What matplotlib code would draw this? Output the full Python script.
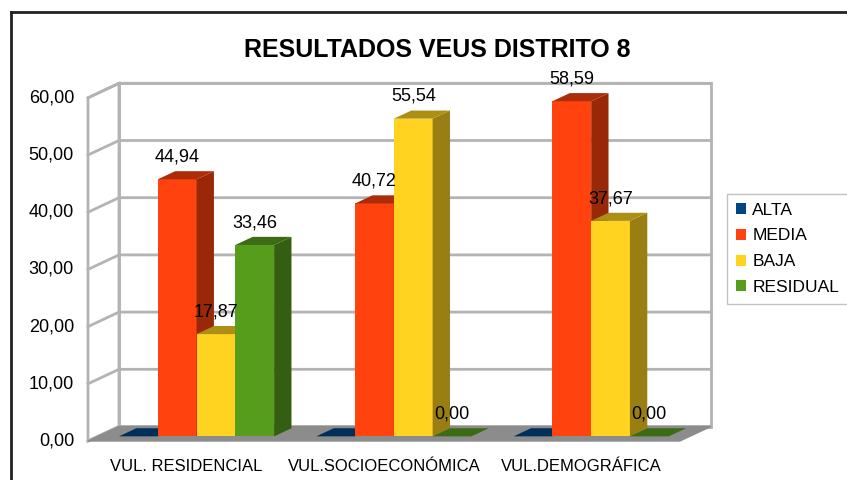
import numpy as np
import matplotlib
matplotlib.use('Agg')
import matplotlib.pyplot as plt
from matplotlib.patches import Polygon, Patch
from matplotlib.lines import Line2D

plt.rcParams['font.family'] = ['Liberation Sans', 'DejaVu Sans']

# data
categories = ['VUL. RESIDENCIAL', 'VUL.SOCIOECONÓMICA', 'VUL.DEMOGRÁFICA']
series_names = ['ALTA', 'MEDIA', 'BAJA', 'RESIDUAL']
alta = [0.0, 0.0, 0.0]
media = [44.94, 40.72, 58.59]
baja = [17.87, 55.54, 37.67]
residual = [33.46, 0.0, 0.0]
labelled = [False, True, True, True]   # ALTA has no data labels
y_ticks = [0, 10, 20, 30, 40, 50, 60]
title = 'RESULTADOS VEUS DISTRITO 8'

colors = ['#004586', '#ff420e', '#ffd320', '#579d1c']

def shade(c, k):
    r, g, b = matplotlib.colors.to_rgb(c)
    return (r * k, g * k, b * k)

def fmt(v):
    return f'{v:.2f}'.replace('.', ',')

W, H = 847, 480
fig = plt.figure(figsize=(W / 100, H / 100), dpi=100)
ax = fig.add_axes([0, 0, 1, 1])

# pixel layout of the front plane
x0_px, cat_px = 88, 197.3
y0_px, unit_px = 441, 5.72
ax.set_xlim(-x0_px / cat_px, (W - x0_px) / cat_px)
ax.set_ylim((y0_px - H) / unit_px, y0_px / unit_px)
ax.axis('off')

DX = 31 / cat_px      # wall depth
DY = 14.5 / unit_px
ymax = y_ticks[-1]
ncat = len(categories)
grid_c = '#b3b3b3'

# walls and floor
ax.add_patch(Polygon([(DX, DY), (ncat + DX, DY), (ncat + DX, ymax + DY), (DX, ymax + DY)],
                     closed=True, facecolor='white', edgecolor=grid_c, lw=2, zorder=1))
ax.add_patch(Polygon([(0, 0), (0, ymax), (DX, ymax + DY), (DX, DY)],
                     closed=True, facecolor='white', edgecolor=grid_c, lw=2, zorder=1))
for v in y_ticks:
    ax.plot([0, DX, ncat + DX], [v, v + DY, v + DY], color=grid_c, lw=2, zorder=2)
    ax.text(-14 / cat_px, v, fmt(v), ha='right', va='center', fontsize=13, color='#000000')
ax.add_patch(Polygon([(0, 0), (ncat, 0), (ncat + DX, DY), (DX, DY)],
                     closed=True, facecolor='#8c8c8c', edgecolor='#8c8c8c', lw=1, zorder=3))

# bars
series = [alta, media, baja, residual]
nser = len(series)
margin = 0.107
bw = (1 - 2 * margin) / nser
f0, f1 = 0.32, 0.88
bx, by = f0 * DX, f0 * DY
ddx, ddy = (f1 - f0) * DX, (f1 - f0) * DY

z = 4
for i in range(ncat):
    for j in range(nser):
        v = series[j][i]
        c = colors[j]
        x = i + margin + j * bw + bx
        yb = by
        yt = by + v
        # front
        ax.add_patch(Polygon([(x, yb), (x + bw, yb), (x + bw, yt), (x, yt)],
                             closed=True, facecolor=c, edgecolor='none', zorder=z))
        # side
        ax.add_patch(Polygon([(x + bw, yb), (x + bw, yt), (x + bw + ddx, yt + ddy), (x + bw + ddx, yb + ddy)],
                             closed=True, facecolor=shade(c, 0.6), edgecolor='none', zorder=z))
        # top
        ax.add_patch(Polygon([(x, yt), (x + bw, yt), (x + bw + ddx, yt + ddy), (x + ddx, yt + ddy)],
                             closed=True, facecolor=shade(c, 0.68), edgecolor='none', zorder=z))
        z += 1

for i in range(ncat):
    for j in range(nser):
        if not labelled[j]:
            continue
        v = series[j][i]
        x = i + margin + (j + 0.5) * bw + bx
        ax.text(x, v + by + 3.9, fmt(v), ha='center', va='center', fontsize=13,
                color='#000000', zorder=100)

for i, name in enumerate(categories):
    ax.text(i + 0.5, -4.4, name, ha='center', va='center', fontsize=12, color='#000000')

fig.text(437 / W, 1 - 50 / H, title, ha='center', va='center', fontsize=18, fontweight='bold')

handles = [Patch(facecolor=c, edgecolor='none') for c in colors]
fig.legend(handles, series_names, loc='upper left', bbox_to_anchor=(727 / W, 1 - 194 / H),
           frameon=True, fancybox=False, edgecolor=grid_c, fontsize=12.5,
           handlelength=0.6, handleheight=0.6, handletextpad=0.35,
           labelspacing=0.62, borderpad=0.5, borderaxespad=0)

# outer frame
fig.add_artist(Line2D([10.5 / W, 10.5 / W], [0, 1 - 11.5 / H], color='#222222', lw=2,
                      transform=fig.transFigure))
fig.add_artist(Line2D([10.5 / W, 1], [1 - 11.5 / H, 1 - 11.5 / H], color='#222222', lw=2,
                      transform=fig.transFigure))

fig.savefig('out.png', dpi=100)
